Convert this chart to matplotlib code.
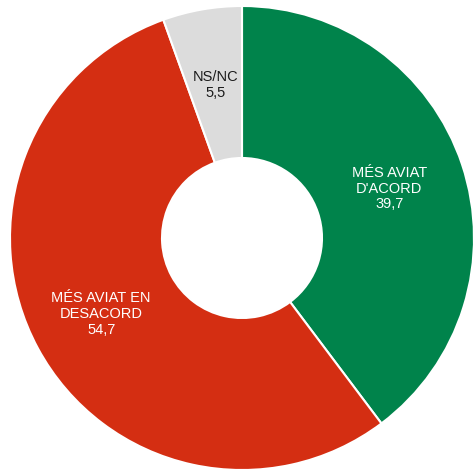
import numpy as np
import matplotlib
matplotlib.use("Agg")
import matplotlib.pyplot as plt

labels = ["MÉS AVIAT\nD'ACORD", "MÉS AVIAT EN\nDESACORD", "NS/NC"]
values = [39.7, 54.7, 5.5]
colors = ["#00834B", "#D42E12", "#DCDCDC"]
text_colors = ["white", "white", "#1a1a1a"]
label_pos = [0.67, 0.69, 0.67]

plt.rcParams['font.family'] = ['Liberation Sans', 'DejaVu Sans']

fig = plt.figure(figsize=(4.75, 4.73), dpi=100)
ax = fig.add_axes([0, 0, 1, 1])
ax.set_aspect('equal')
ax.axis('off')

cx, cy, r = 242, 235, 232
wedges, _ = ax.pie(values, colors=colors, startangle=90, counterclock=False,
                   center=(cx, cy), radius=r,
                   wedgeprops=dict(width=r - 80, edgecolor='white', linewidth=1.5))
ax.set_xlim(0, 475)
ax.set_ylim(0, 473)

total = sum(values)
start = 90.0
for lab, v, tc, f in zip(labels, values, text_colors, label_pos):
    mid = start - v / total * 360 / 2
    start -= v / total * 360
    x = cx + f * r * np.cos(np.radians(mid))
    y = cy + f * r * np.sin(np.radians(mid))
    ax.text(x, y, f"{lab}\n{str(v).replace('.', ',')}", ha='center', va='center',
            color=tc, fontsize=10.5, linespacing=1.15)

fig.savefig("out.png", dpi=100)
